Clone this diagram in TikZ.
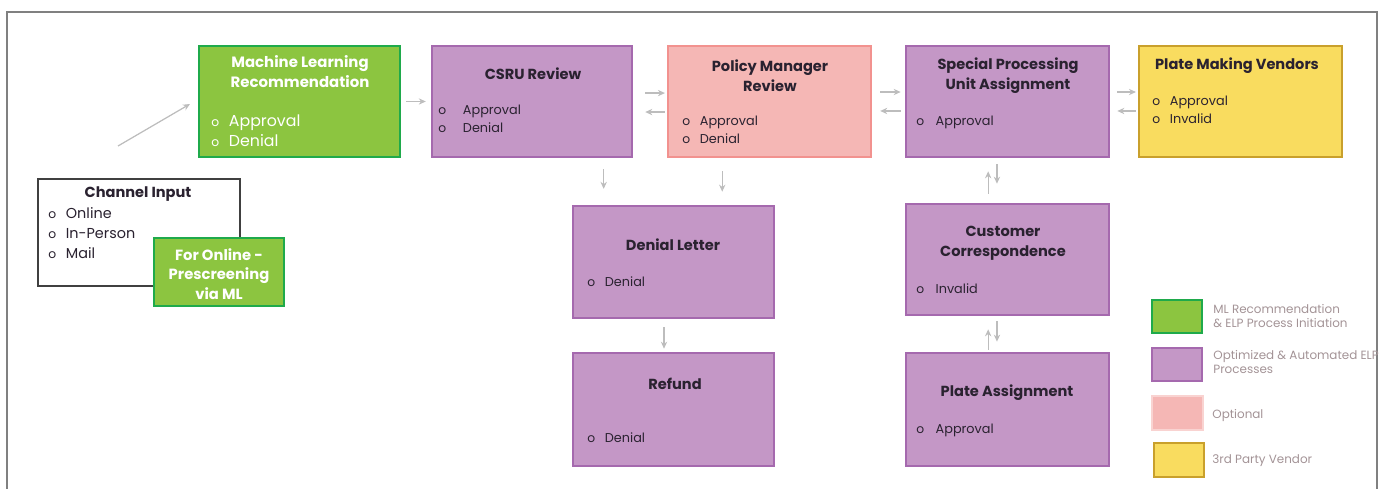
\documentclass[tikz,border=0pt]{standalone}
\usepackage{fontspec}
\setmainfont{Poppins}
\usetikzlibrary{arrows.meta}

\definecolor{mlfill}{HTML}{8CC540}
\definecolor{mlline}{HTML}{1FAA4B}
\definecolor{procfill}{HTML}{C497C6}
\definecolor{procline}{HTML}{A569AE}
\definecolor{optfill}{HTML}{F5B7B5}
\definecolor{optline}{HTML}{F2928F}
\definecolor{optlight}{HTML}{F9D3D1}
\definecolor{vendfill}{HTML}{F9DC5F}
\definecolor{vendline}{HTML}{C9A02C}
\definecolor{arrgray}{HTML}{BDBDBD}
\definecolor{txtdark}{HTML}{2A2230}
\definecolor{lgtxt}{HTML}{A39396}

\newcommand{\bul}{\makebox[10pt][l]{\scriptsize o}}

\tikzset{
  box/.style={draw, line width=1.5pt, minimum height=2.22cm, inner sep=0pt},
  mlbox/.style={box, fill=mlfill, draw=mlline},
  procbox/.style={box, fill=procfill, draw=procline},
  optbox/.style={box, fill=optfill, draw=optline},
  vendbox/.style={box, fill=vendfill, draw=vendline},
  ttl/.style={font=\fontsize{8.3}{11.2}\selectfont\bfseries, align=center, text=txtdark, inner sep=0pt},
  itm/.style={font=\fontsize{7.3}{10.2}\selectfont, align=left, anchor=west, text=txtdark, inner sep=0pt},
  lgtext/.style={font=\fontsize{6.8}{8}\selectfont, align=left, anchor=west, text=lgtxt, inner sep=0pt},
  arr/.style={draw=arrgray, line width=0.7pt, -{Stealth[length=4pt,width=3.6pt]}}
}

\begin{document}
\begin{tikzpicture}[x=0.02cm, y=-0.02cm]
    \useasboundingbox (0,0) rectangle (1390,489);

    % frame
    \draw[gray, line width=1.2pt] (7,500) -- (7,12) -- (1377,12) -- (1377,500);

    % top row
    \node[mlbox, minimum width=4.02cm] (ml) at (299.5,101.5) {};
    \node[procbox, minimum width=4.0cm] (csru) at (532,101.5) {};
    \node[optbox, minimum width=4.06cm] (pm) at (769.5,101.5) {};
    \node[procbox, minimum width=4.06cm] (spu) at (1007.5,101.5) {};
    \node[vendbox, minimum width=4.06cm] (pmv) at (1240.5,101.5) {};

    % channel input
    \node[draw=black!75, line width=1pt, fill=white, minimum width=4.04cm, minimum height=2.14cm] (chan) at (139,232.5) {};
    \node[mlbox, minimum width=2.6cm, minimum height=1.36cm] (online) at (219,272) {};

    % lower boxes
    \node[procbox, minimum width=4.02cm, minimum height=2.24cm] (deny) at (673.5,262) {};
    \node[procbox, minimum width=4.02cm, minimum height=2.26cm] (refund) at (673.5,409.5) {};
    \node[procbox, minimum width=4.06cm] (cc) at (1007.5,259.5) {};
    \node[procbox, minimum width=4.06cm, minimum height=2.26cm] (pa) at (1007.5,409.5) {};

    % texts
    \node[ttl, text=white, font=\fontsize{8.5}{11}\selectfont\bfseries] (mlt) at (300,71.5) {Machine Learning\\Recommendation};
    \node[itm, text=white, font=\fontsize{9}{11.3}\selectfont] (mli) at (211,131) {\bul Approval\\\bul Denial};
    \node[ttl] (csrut) at (533,74) {CSRU Review};
    \node[itm] (csrui) at (438,119) {\makebox[14pt][l]{\scriptsize o}Approval\\\makebox[14pt][l]{\scriptsize o}Denial};
    \node[ttl] (pmt) at (770,76) {Policy Manager\\Review};
    \node[itm] (pmi) at (682,130) {\bul Approval\\\bul Denial};
    \node[ttl] (sput) at (1008,76) {Special Processing\\Unit Assignment};
    \node[itm] (spui) at (916,122) {\makebox[11pt][l]{\scriptsize o}Approval};
    \node[ttl] (pmvt) at (1237,66) {Plate Making Vendors};
    \node[itm] (pmvi) at (1152,110) {\bul Approval\\\bul Invalid};
    \node[ttl] (chant) at (138,194) {Channel Input};
    \node[itm, font=\fontsize{8.2}{11.3}\selectfont] (chani) at (48,233) {\bul Online\\\bul In-Person\\\bul Mail};
    \node[ttl, text=white, font=\fontsize{8.4}{11}\selectfont\bfseries] (onlinet) at (219,274) {For Online -\\Prescreening\\via ML};
    \node[ttl] (denyt) at (673,245) {Denial Letter};
    \node[itm] (denyi) at (587,282) {\bul Denial};
    \node[ttl] (refundt) at (675,384) {Refund};
    \node[itm] (refundi) at (587,438) {\bul Denial};
    \node[ttl] (cct) at (1003,243) {Customer\\Correspondence};
    \node[itm] (cci) at (916,289) {\makebox[11pt][l]{\scriptsize o}Invalid};
    \node[ttl] (pat) at (1007,393) {Plate Assignment};
    \node[itm] (pai) at (916,430) {\makebox[11pt][l]{\scriptsize o}Approval};

    % arrows
    \coordinate (diagstart) at (118,146);
    \coordinate (diagend) at (190,104);
    \draw[arr] (diagstart) -- (diagend);
    \draw[arr, shorten <=2.8pt, shorten >=2.8pt] (ml.east) -- (ml.east -| csru.west);
    \draw[arr, shorten <=6.8pt, shorten >=1pt] ([yshift=4.8pt]csru.east) -- ([yshift=4.8pt]pm.west);
    \draw[arr, shorten <=1pt, shorten >=6.8pt] ([yshift=-6pt]pm.west) -- ([yshift=-6pt]csru.east);
    \draw[arr, shorten <=4.5pt, shorten >=2.3pt] ([yshift=5.4pt]pm.east) -- ([yshift=5.4pt]spu.west);
    \draw[arr, shorten <=2.3pt, shorten >=4.5pt] ([yshift=-5.4pt]spu.west) -- ([yshift=-5.4pt]pm.east);
    \draw[arr, shorten <=4pt, shorten >=1pt] ([yshift=5.4pt]spu.east) -- ([yshift=5.4pt]pmv.west);
    \draw[arr, shorten <=1pt, shorten >=4pt] ([yshift=-5.4pt]pmv.west) -- ([yshift=-5.4pt]spu.east);
    \draw[arr, shorten <=6.2pt, shorten >=9pt] ([xshift=40.8pt]csru.south) -- ([xshift=40.8pt]csru.south |- deny.north);
    \draw[arr, shorten <=7.4pt, shorten >=7.4pt] ([xshift=-26.9pt]pm.south) -- ([xshift=-26.9pt]pm.south |- deny.north);
    \draw[arr, shorten <=5pt, shorten >=7.4pt] ([xshift=-11pt]cc.north) -- ([xshift=-11pt]cc.north |- spu.south);
    \draw[arr, shorten <=3.4pt, shorten >=10.8pt] ([xshift=-6pt]spu.south) -- ([xshift=-6pt]spu.south |- cc.north);
    \draw[arr, shorten <=4.5pt, shorten >=1.7pt] ([xshift=-5.4pt]deny.south) -- ([xshift=-5.4pt]deny.south |- refund.north);
    \draw[arr, shorten <=1.1pt, shorten >=7.4pt] ([xshift=-11pt]pa.north) -- ([xshift=-11pt]pa.north |- cc.south);
    \draw[arr, shorten <=2.8pt, shorten >=5.7pt] ([xshift=-6pt]cc.south) -- ([xshift=-6pt]cc.south |- pa.north);

    % legend
    \node[mlbox, minimum width=1.0cm, minimum height=0.66cm] (lg1) at (1177,316.5) {};
    \node[procbox, minimum width=1.0cm, minimum height=0.66cm] (lg2) at (1177,364.5) {};
    \node[box, fill=optfill, draw=optlight, minimum width=1.02cm, minimum height=0.68cm] (lg3) at (1177.5,413) {};
    \node[vendbox, minimum width=1.0cm, minimum height=0.68cm] (lg4) at (1179,460) {};
    \node[lgtext] (lg1t) at (1213,316) {ML Recommendation\\\& ELP Process Initiation};
    \node[lgtext] (lg2t) at (1213,362) {Optimized \& Automated ELP\\Processes};
    \node[lgtext] (lg3t) at (1212,416) {Optional};
    \node[lgtext] (lg4t) at (1212,461) {3rd Party Vendor};
\end{tikzpicture}
\end{document}
